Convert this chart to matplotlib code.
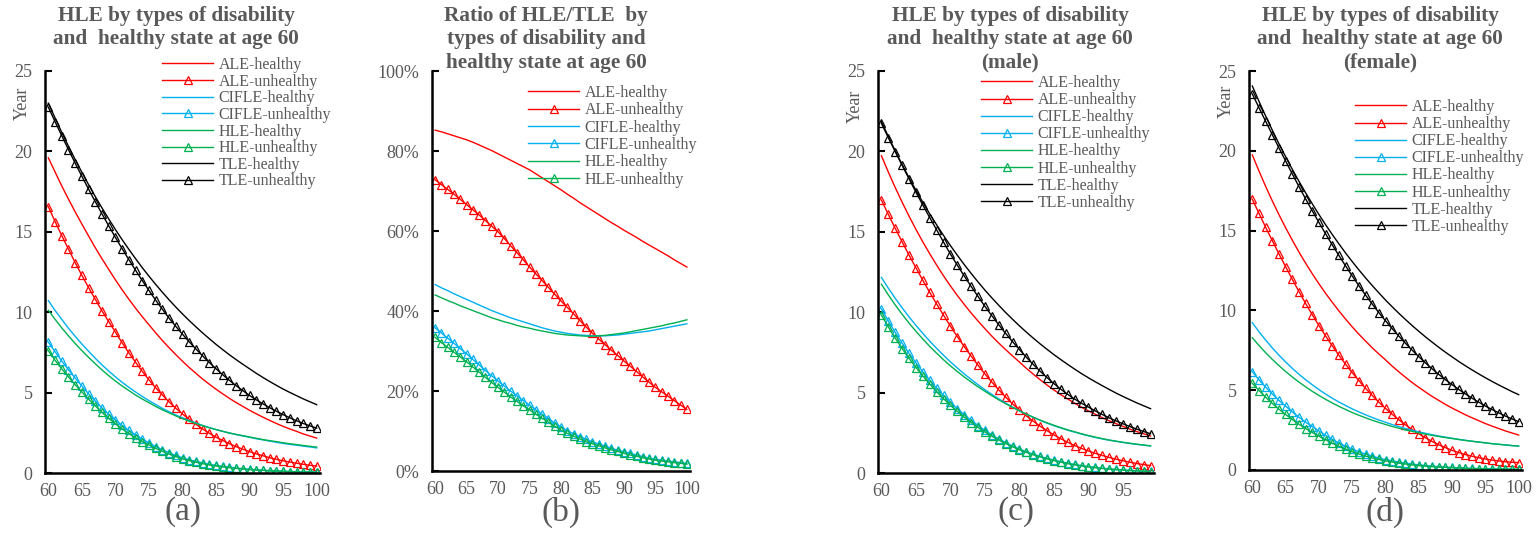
import matplotlib
matplotlib.use("Agg")
import matplotlib.pyplot as plt

plt.rcParams['font.family'] = ['Liberation Serif', 'DejaVu Serif']

GREY = '#595959'
RED, BLUE, GREEN, BLACK = '#FF0000', '#00B0F0', '#00B050', '#000000'

# ages on the x axis
ages = list(range(60, 101))
ages_male = list(range(60, 100))

# (a) years, both sexes
a_ale_h = [19.60, 18.72, 17.85, 17.03, 16.24, 15.48, 14.74, 14.01, 13.32, 12.66,
           12.01, 11.39, 10.81, 10.25, 9.72, 9.22, 8.72, 8.24, 7.79, 7.36,
           6.95, 6.56, 6.20, 5.84, 5.52, 5.21, 4.92, 4.64, 4.38, 4.14,
           3.90, 3.68, 3.47, 3.27, 3.08, 2.90, 2.74, 2.59, 2.43, 2.30, 2.17]
a_ale_u = [16.56, 15.64, 14.76, 13.92, 13.08, 12.29, 11.53, 10.80, 10.08, 9.41,
           8.76, 8.10, 7.47, 6.89, 6.32, 5.79, 5.30, 4.85, 4.42, 4.03,
           3.67, 3.34, 3.03, 2.74, 2.47, 2.23, 2.02, 1.82, 1.64, 1.48,
           1.33, 1.19, 1.07, 0.95, 0.85, 0.76, 0.68, 0.61, 0.54, 0.48, 0.43]
a_cif_h = [10.72, 10.11, 9.55, 9.00, 8.50, 8.02, 7.57, 7.13, 6.72, 6.34,
           5.98, 5.64, 5.33, 5.04, 4.76, 4.50, 4.26, 4.02, 3.81, 3.61,
           3.43, 3.26, 3.11, 2.96, 2.83, 2.70, 2.59, 2.48, 2.39, 2.30,
           2.22, 2.13, 2.06, 1.98, 1.91, 1.84, 1.78, 1.73, 1.67, 1.62, 1.56]
a_cif_u = [8.14, 7.54, 6.96, 6.42, 5.90, 5.41, 4.92, 4.47, 4.04, 3.66,
           3.30, 2.96, 2.65, 2.37, 2.11, 1.87, 1.64, 1.45, 1.26, 1.09,
           0.95, 0.82, 0.72, 0.63, 0.54, 0.47, 0.41, 0.36, 0.31, 0.27,
           0.23, 0.20, 0.17, 0.15, 0.12, 0.11, 0.09, 0.08, 0.07, 0.06, 0.05]
a_hle_h = [10.12, 9.56, 9.02, 8.53, 8.05, 7.61, 7.19, 6.79, 6.41, 6.05,
           5.72, 5.41, 5.13, 4.85, 4.60, 4.37, 4.14, 3.93, 3.74, 3.55,
           3.38, 3.22, 3.08, 2.94, 2.81, 2.70, 2.59, 2.49, 2.40, 2.32,
           2.24, 2.16, 2.08, 2.01, 1.95, 1.88, 1.82, 1.77, 1.71, 1.66, 1.61]
a_hle_u = [7.60, 7.01, 6.48, 5.97, 5.49, 5.04, 4.59, 4.17, 3.77, 3.40,
           3.06, 2.75, 2.45, 2.19, 1.95, 1.74, 1.53, 1.34, 1.17, 1.02,
           0.88, 0.77, 0.67, 0.58, 0.50, 0.44, 0.38, 0.33, 0.29, 0.25,
           0.21, 0.18, 0.16, 0.13, 0.12, 0.10, 0.09, 0.07, 0.06, 0.06, 0.05]
a_tle_h = [23.00, 22.08, 21.18, 20.32, 19.49, 18.70, 17.93, 17.19, 16.48, 15.80,
           15.14, 14.51, 13.91, 13.33, 12.77, 12.24, 11.73, 11.24, 10.77, 10.32,
           9.89, 9.48, 9.09, 8.71, 8.35, 8.00, 7.67, 7.35, 7.05, 6.76,
           6.48, 6.20, 5.94, 5.69, 5.45, 5.22, 5.01, 4.81, 4.61, 4.43, 4.25]
a_tle_u = [22.75, 21.85, 20.97, 20.11, 19.27, 18.45, 17.65, 16.87, 16.11, 15.37,
           14.65, 13.95, 13.27, 12.61, 11.97, 11.35, 10.75, 10.18, 9.63, 9.12,
           8.63, 8.16, 7.71, 7.28, 6.87, 6.48, 6.11, 5.76, 5.43, 5.12,
           4.82, 4.55, 4.30, 4.06, 3.84, 3.63, 3.43, 3.25, 3.08, 2.93, 2.79]

# (b) ratio HLE/TLE in percent
b_ale_h = [85.2, 84.8, 84.3, 83.8, 83.3, 82.8, 82.2, 81.5, 80.8, 80.1,
           79.3, 78.5, 77.7, 76.9, 76.1, 75.3, 74.3, 73.3, 72.3, 71.3,
           70.3, 69.2, 68.2, 67.1, 66.1, 65.1, 64.1, 63.1, 62.1, 61.2,
           60.2, 59.3, 58.4, 57.4, 56.5, 55.6, 54.7, 53.8, 52.8, 51.9, 51.0]
b_ale_u = [72.8, 71.6, 70.4, 69.2, 67.9, 66.6, 65.3, 64.0, 62.6, 61.2,
           59.8, 58.1, 56.3, 54.6, 52.8, 51.0, 49.3, 47.6, 45.9, 44.2,
           42.5, 40.9, 39.3, 37.6, 36.0, 34.4, 33.0, 31.6, 30.2, 28.9,
           27.5, 26.2, 24.9, 23.5, 22.2, 20.9, 19.8, 18.7, 17.6, 16.5, 15.4]
b_cif_h = [46.6, 45.8, 45.1, 44.3, 43.6, 42.9, 42.2, 41.5, 40.8, 40.1,
           39.5, 38.9, 38.3, 37.8, 37.3, 36.8, 36.3, 35.8, 35.4, 35.0,
           34.7, 34.4, 34.2, 34.0, 33.9, 33.8, 33.8, 33.8, 33.9, 34.0,
           34.2, 34.4, 34.6, 34.8, 35.0, 35.3, 35.6, 35.9, 36.2, 36.5, 36.8]
b_cif_u = [35.8, 34.5, 33.2, 31.9, 30.6, 29.3, 27.9, 26.5, 25.1, 23.8,
           22.5, 21.2, 20.0, 18.8, 17.6, 16.5, 15.3, 14.2, 13.1, 12.0,
           11.0, 10.1, 9.3, 8.6, 7.9, 7.3, 6.7, 6.2, 5.7, 5.2,
           4.8, 4.4, 4.0, 3.6, 3.2, 2.9, 2.7, 2.5, 2.3, 2.1, 1.9]
b_hle_h = [44.0, 43.3, 42.6, 42.0, 41.3, 40.7, 40.1, 39.5, 38.9, 38.3,
           37.8, 37.3, 36.9, 36.4, 36.0, 35.7, 35.3, 35.0, 34.7, 34.4,
           34.2, 34.0, 33.9, 33.8, 33.7, 33.7, 33.8, 33.9, 34.1, 34.3,
           34.5, 34.8, 35.1, 35.4, 35.7, 36.0, 36.3, 36.7, 37.0, 37.4, 37.8]
b_hle_u = [33.4, 32.1, 30.9, 29.7, 28.5, 27.3, 26.0, 24.7, 23.4, 22.1,
           20.9, 19.7, 18.5, 17.4, 16.3, 15.3, 14.2, 13.2, 12.2, 11.2,
           10.2, 9.4, 8.7, 8.0, 7.3, 6.8, 6.3, 5.8, 5.3, 4.9,
           4.4, 4.0, 3.7, 3.3, 3.0, 2.7, 2.5, 2.3, 2.1, 1.9, 1.7]

# (c) years, male (ages 60-99)
c_ale_h = [19.73, 18.71, 17.75, 16.84, 15.97, 15.15, 14.37, 13.63, 12.93, 12.26,
           11.63, 11.04, 10.48, 9.95, 9.45, 8.97, 8.51, 8.08, 7.67, 7.28,
           6.90, 6.51, 6.15, 5.80, 5.47, 5.16, 4.87, 4.60, 4.34, 4.09,
           3.86, 3.65, 3.44, 3.25, 3.07, 2.90, 2.73, 2.58, 2.44, 2.30]
c_ale_u = [16.97, 16.08, 15.21, 14.37, 13.55, 12.76, 11.98, 11.23, 10.51, 9.81,
           9.13, 8.48, 7.86, 7.27, 6.70, 6.16, 5.65, 5.17, 4.72, 4.30,
           3.91, 3.55, 3.22, 2.91, 2.63, 2.37, 2.13, 1.91, 1.71, 1.53,
           1.37, 1.22, 1.09, 0.97, 0.86, 0.76, 0.67, 0.59, 0.52, 0.46]
c_cif_h = [12.16, 11.49, 10.86, 10.27, 9.71, 9.18, 8.68, 8.20, 7.75, 7.32,
           6.91, 6.53, 6.16, 5.82, 5.49, 5.18, 4.89, 4.61, 4.35, 4.10,
           3.87, 3.66, 3.46, 3.27, 3.10, 2.94, 2.80, 2.66, 2.54, 2.42,
           2.31, 2.21, 2.12, 2.04, 1.97, 1.90, 1.84, 1.78, 1.73, 1.68]
c_cif_u = [10.20, 9.45, 8.74, 8.07, 7.44, 6.85, 6.29, 5.77, 5.28, 4.82,
           4.39, 3.99, 3.62, 3.27, 2.95, 2.65, 2.37, 2.12, 1.89, 1.68,
           1.49, 1.32, 1.17, 1.03, 0.91, 0.80, 0.70, 0.61, 0.53, 0.46,
           0.40, 0.35, 0.30, 0.26, 0.22, 0.19, 0.16, 0.14, 0.12, 0.10]
c_hle_h = [11.74, 11.07, 10.45, 9.87, 9.32, 8.81, 8.33, 7.87, 7.45, 7.04,
           6.66, 6.31, 5.97, 5.66, 5.36, 5.08, 4.81, 4.55, 4.31, 4.08,
           3.86, 3.66, 3.47, 3.29, 3.12, 2.97, 2.82, 2.68, 2.56, 2.44,
           2.33, 2.23, 2.14, 2.05, 1.98, 1.91, 1.85, 1.79, 1.74, 1.69]
c_hle_u = [9.82, 9.08, 8.39, 7.74, 7.13, 6.56, 6.03, 5.53, 5.06, 4.62,
           4.21, 3.83, 3.47, 3.14, 2.83, 2.55, 2.29, 2.05, 1.83, 1.63,
           1.45, 1.28, 1.13, 1.00, 0.88, 0.77, 0.67, 0.58, 0.51, 0.44,
           0.38, 0.33, 0.28, 0.24, 0.21, 0.18, 0.15, 0.13, 0.11, 0.09]
c_tle_h = [21.85, 20.92, 20.03, 19.18, 18.36, 17.58, 16.83, 16.11, 15.43, 14.77,
           14.14, 13.54, 12.96, 12.41, 11.88, 11.37, 10.89, 10.43, 9.98, 9.56,
           9.15, 8.76, 8.39, 8.03, 7.69, 7.36, 7.05, 6.75, 6.46, 6.18,
           5.92, 5.67, 5.43, 5.20, 4.97, 4.76, 4.56, 4.36, 4.18, 4.00]
c_tle_u = [21.74, 20.85, 19.98, 19.13, 18.29, 17.46, 16.66, 15.88, 15.12, 14.36,
           13.61, 12.92, 12.25, 11.60, 10.98, 10.36, 9.78, 9.22, 8.68, 8.17,
           7.68, 7.20, 6.75, 6.33, 5.93, 5.56, 5.21, 4.89, 4.60, 4.34,
           4.10, 3.86, 3.64, 3.43, 3.24, 3.06, 2.89, 2.73, 2.58, 2.44]

# (d) years, female
d_ale_h = [19.74, 18.73, 17.77, 16.86, 16.00, 15.18, 14.40, 13.66, 12.96, 12.30,
           11.67, 11.07, 10.51, 9.97, 9.46, 8.97, 8.51, 8.08, 7.66, 7.27,
           6.90, 6.51, 6.15, 5.81, 5.48, 5.18, 4.89, 4.61, 4.36, 4.11,
           3.88, 3.67, 3.46, 3.27, 3.09, 2.91, 2.75, 2.60, 2.45, 2.32, 2.19]
d_ale_u = [16.96, 16.08, 15.21, 14.37, 13.54, 12.74, 11.95, 11.18, 10.44, 9.73,
           9.05, 8.40, 7.78, 7.19, 6.63, 6.10, 5.60, 5.12, 4.67, 4.25,
           3.86, 3.49, 3.15, 2.83, 2.54, 2.27, 2.02, 1.79, 1.58, 1.40,
           1.23, 1.09, 0.97, 0.86, 0.77, 0.69, 0.62, 0.57, 0.52, 0.49, 0.46]
d_cif_h = [9.23, 8.66, 8.14, 7.65, 7.19, 6.77, 6.37, 6.00, 5.66, 5.34,
           5.04, 4.76, 4.50, 4.26, 4.04, 3.83, 3.64, 3.46, 3.29, 3.13,
           2.99, 2.85, 2.72, 2.60, 2.49, 2.39, 2.30, 2.21, 2.13, 2.06,
           1.99, 1.92, 1.86, 1.80, 1.75, 1.70, 1.65, 1.61, 1.57, 1.53, 1.50]
d_cif_u = [6.16, 5.65, 5.19, 4.76, 4.36, 4.00, 3.64, 3.31, 3.00, 2.72,
           2.45, 2.17, 1.92, 1.70, 1.49, 1.31, 1.14, 1.00, 0.87, 0.75,
           0.65, 0.57, 0.49, 0.43, 0.37, 0.32, 0.28, 0.24, 0.21, 0.18,
           0.16, 0.14, 0.12, 0.10, 0.09, 0.08, 0.07, 0.06, 0.05, 0.05, 0.04]
d_hle_h = [8.29, 7.80, 7.35, 6.93, 6.54, 6.17, 5.83, 5.51, 5.21, 4.93,
           4.67, 4.43, 4.20, 3.99, 3.79, 3.60, 3.43, 3.27, 3.12, 2.98,
           2.85, 2.73, 2.62, 2.51, 2.42, 2.33, 2.25, 2.17, 2.10, 2.03,
           1.97, 1.91, 1.85, 1.80, 1.75, 1.70, 1.65, 1.61, 1.57, 1.53, 1.50]
d_hle_u = [5.43, 4.98, 4.56, 4.17, 3.81, 3.48, 3.16, 2.87, 2.60, 2.35,
           2.12, 1.89, 1.68, 1.49, 1.31, 1.15, 1.00, 0.87, 0.76, 0.66,
           0.57, 0.50, 0.43, 0.37, 0.32, 0.28, 0.24, 0.21, 0.18, 0.16,
           0.14, 0.12, 0.10, 0.09, 0.08, 0.07, 0.06, 0.05, 0.05, 0.04, 0.04]
d_tle_h = [24.06, 23.10, 22.18, 21.29, 20.44, 19.63, 18.84, 18.09, 17.37, 16.68,
           16.01, 15.37, 14.76, 14.17, 13.60, 13.06, 12.54, 12.04, 11.56, 11.10,
           10.65, 10.23, 9.82, 9.43, 9.05, 8.69, 8.34, 8.01, 7.69, 7.38,
           7.09, 6.80, 6.53, 6.27, 6.02, 5.78, 5.55, 5.33, 5.12, 4.91, 4.72]
d_tle_u = [23.56, 22.70, 21.85, 21.01, 20.18, 19.36, 18.55, 17.76, 16.99, 16.24,
           15.51, 14.80, 14.11, 13.44, 12.79, 12.16, 11.55, 10.96, 10.40, 9.86,
           9.35, 8.86, 8.39, 7.94, 7.51, 7.10, 6.71, 6.34, 5.99, 5.66,
           5.35, 5.05, 4.77, 4.50, 4.25, 4.01, 3.79, 3.58, 3.38, 3.20, 3.03]

labels = ['ALE-healthy', 'ALE-unhealthy', 'CIFLE-healthy', 'CIFLE-unhealthy',
          'HLE-healthy', 'HLE-unhealthy', 'TLE-healthy', 'TLE-unhealthy']
colors = [RED, RED, BLUE, BLUE, GREEN, GREEN, BLACK, BLACK]

W, H = 1536, 545
fig = plt.figure(figsize=(W / 100, H / 100), dpi=100)


def px_axes(left, top, right, bottom):
    # axes from pixel box
    return fig.add_axes([left / W, 1 - bottom / H, (right - left) / W, (bottom - top) / H])


def draw_panel(ax, x, series, xmax, ymax, yticks, ylabels, xticks, leg_xy, spacing):
    for i, ys in enumerate(series):
        unhealthy = i % 2 == 1
        ax.plot(x, ys, color=colors[i], lw=1.0, label=labels[i],
                marker='^' if unhealthy else None, ms=5.2, mfc='none', mew=0.9)
    ax.set_xlim(59.5, xmax)
    ax.set_ylim(0, ymax)
    ax.set_xticks(xticks)
    ax.set_yticks(yticks)
    ax.set_yticklabels(ylabels)
    for s in ['top', 'right']:
        ax.spines[s].set_visible(False)
    for s in ['left', 'bottom']:
        ax.spines[s].set_linewidth(1.8)
    ax.tick_params(axis='y', direction='in', length=5, width=1.5,
                   labelsize=13, labelcolor=GREY, pad=9)
    ax.tick_params(axis='x', length=0, labelsize=13, labelcolor=GREY, pad=7)
    leg = ax.legend(loc='upper left', bbox_to_anchor=(leg_xy[0] / W, 1 - leg_xy[1] / H),
                    bbox_transform=fig.transFigure, frameon=False, fontsize=11.5,
                    handlelength=3.2, handletextpad=0.35, labelspacing=spacing,
                    borderpad=0, borderaxespad=0, numpoints=1)
    for t in leg.get_texts():
        t.set_color(GREY)


ticks5 = [60, 65, 70, 75, 80, 85, 90, 95, 100]
yrs = [0, 5, 10, 15, 20, 25]

ax_a = px_axes(45, 71, 320, 473)
draw_panel(ax_a, ages, [a_ale_h, a_ale_u, a_cif_h, a_cif_u, a_hle_h, a_hle_u, a_tle_h, a_tle_u],
           100.5, 25, yrs, [str(v) for v in yrs], ticks5, (162, 57), 0.04)

ax_b = px_axes(432, 71, 690, 471)
pct = [0, 20, 40, 60, 80, 100]
draw_panel(ax_b, ages, [b_ale_h, b_ale_u, b_cif_h, b_cif_u, b_hle_h, b_hle_u],
           100.5, 100, pct, [f'{v}%' for v in pct], ticks5, (528, 85), 0.085)

ax_c = px_axes(878, 71, 1154, 473)
draw_panel(ax_c, ages_male, [c_ale_h, c_ale_u, c_cif_h, c_cif_u, c_hle_h, c_hle_u, c_tle_h, c_tle_u],
           99.5, 25, yrs, [str(v) for v in yrs], ticks5[:-1], (981, 75), 0.07)

ax_d = px_axes(1249, 71, 1522, 470)
draw_panel(ax_d, ages, [d_ale_h, d_ale_u, d_cif_h, d_cif_u, d_hle_h, d_hle_u, d_tle_h, d_tle_u],
           100.5, 25, yrs, [str(v) for v in yrs], ticks5, (1355, 99), 0.07)

# titles
title_kw = dict(ha='center', va='top', fontsize=15.3, fontweight='bold', color=GREY, linespacing=1.22)
fig.text(176 / W, 1 - 6 / H, 'HLE by types of disability\nand  healthy state at age 60', **title_kw)
fig.text(546 / W, 1 - 6 / H, 'Ratio of HLE/TLE  by\ntypes of disability and\nhealthy state at age 60', **title_kw)
fig.text(1010 / W, 1 - 6 / H, 'HLE by types of disability\nand  healthy state at age 60\n(male)', **title_kw)
fig.text(1380 / W, 1 - 6 / H, 'HLE by types of disability\nand  healthy state at age 60\n(female)', **title_kw)

# y labels
for xp, yp in [(22, 103), (855, 106), (1226, 101)]:
    fig.text(xp / W, 1 - yp / H, 'Year', rotation=90, ha='center', va='center', fontsize=13, color=GREY)

# panel letters
for xp, s in [(183, '(a)'), (561, '(b)'), (1016, '(c)'), (1385, '(d)')]:
    fig.text(xp / W, 1 - 512 / H, s, ha='center', va='center', fontsize=24, color=GREY)

fig.savefig('out.png', dpi=100)
